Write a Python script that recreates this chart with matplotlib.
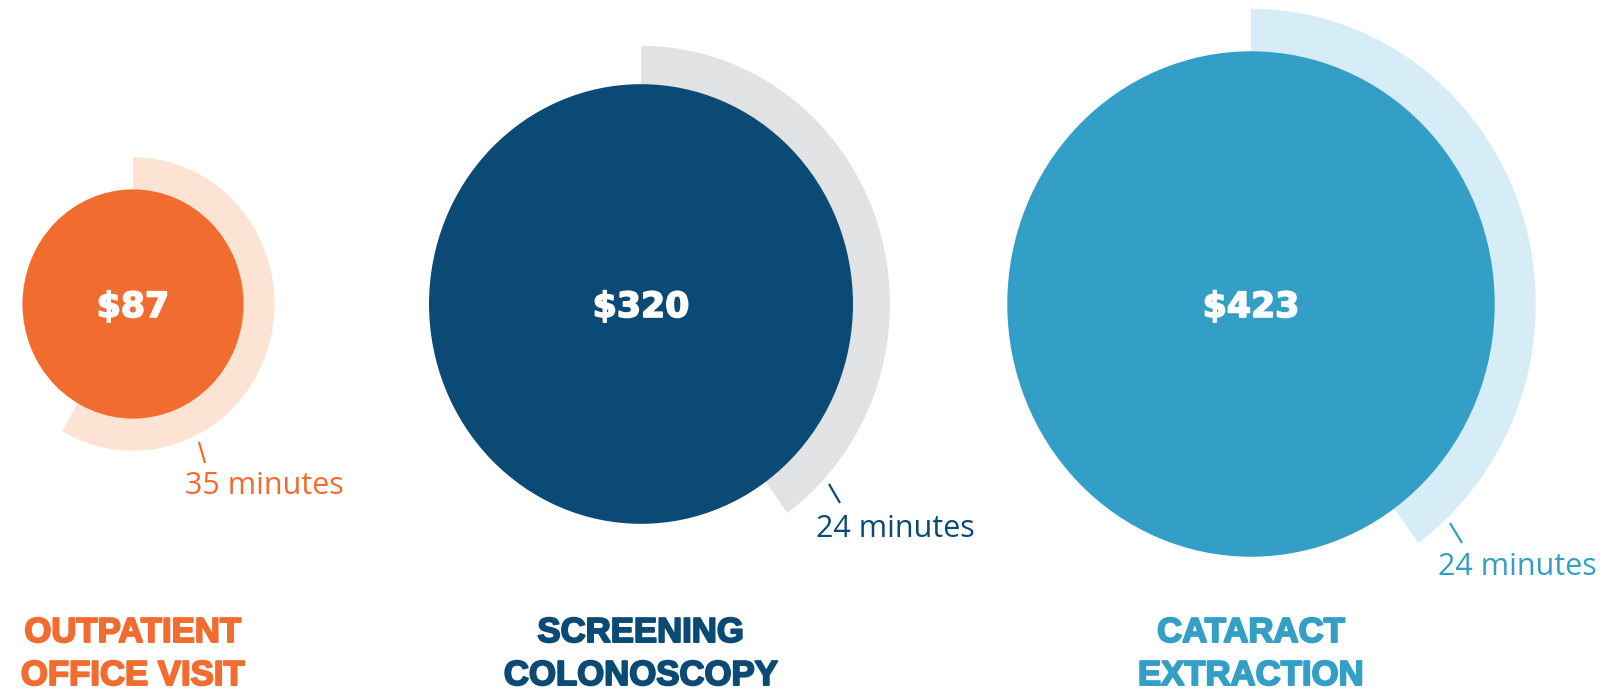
import matplotlib
matplotlib.use("Agg")
import matplotlib.pyplot as plt
from matplotlib.patches import Circle, Wedge
from matplotlib import patheffects as pe
import numpy as np

# Data
categories = ["OUTPATIENT\nOFFICE VISIT", "SCREENING\nCOLONOSCOPY", "CATARACT\nEXTRACTION"]
costs = [87, 320, 423]          # dollars
minutes = [35, 24, 24]          # procedure time, minutes out of an hour

# Styling
main_colors = ["#F36C2F", "#0A4A75", "#339FC7"]
ring_colors = ["#FDE3D3", "#E1E2E4", "#D6EDF7"]
centers_x = [133, 641, 1251]
center_y = 304
ring_width = [31, 37, 41]
radius_scale = 11.85            # px per sqrt(dollar): circle area ~ cost
S = 1.037                       # vertical stretch of the layout

W, H = 1606, 692
fig = plt.figure(figsize=(W / 100, H / 100), dpi=100)
ax = fig.add_axes([0, 0, 1, 1])
ax.set_xlim(0, W)
ax.set_ylim(H / S, 0)
ax.axis("off")


def py(p):
    """Convert a pixel row to data y."""
    return p / S


label_font = "Liberation Sans"
num_font = "DejaVu Sans"
min_font = "Open Sans"

minute_text_pos = [(185, 494), (816, 537), (1438, 575)]
tick_pos = [((199, 442), (205, 463)),
            ((829, 484), (840, 503)),
            ((1450, 523), (1462, 543))]

for i, (cat, cost, mins) in enumerate(zip(categories, costs, minutes)):
    cx = centers_x[i]
    cy = py(center_y)
    r = radius_scale * np.sqrt(cost)
    sweep = mins / 60 * 360
    # time ring: clockwise from 12 o'clock (y axis is inverted)
    ax.add_patch(Wedge((cx, cy), r + ring_width[i], -90, -90 + sweep,
                       facecolor=ring_colors[i], edgecolor="none", zorder=1))
    ax.add_patch(Circle((cx, cy), r, facecolor=main_colors[i],
                        edgecolor="none", zorder=2))
    # cost label
    ax.text(cx, py(317), f"${cost}", ha="center", va="baseline",
            fontsize=25, fontfamily=num_font, fontweight="bold",
            color="white", zorder=3,
            path_effects=[pe.withStroke(linewidth=1.2, foreground="white")])
    # minutes label with tick
    (x0, y0), (x1, y1) = tick_pos[i]
    ax.plot([x0, x1], [py(y0), py(y1)], color=main_colors[i], lw=1.6,
            solid_capstyle="butt", zorder=3)
    tx, ty = minute_text_pos[i]
    ax.text(tx, py(ty), f"{mins} minutes", ha="left", va="baseline",
            fontsize=22, fontfamily=min_font, color=main_colors[i], zorder=3)
    # category label
    for j, line in enumerate(cat.split("\n")):
        ax.text(cx, py(642 + 43 * j), line, ha="center", va="baseline",
                fontsize=25, fontfamily=label_font, fontweight="bold",
                color=main_colors[i], zorder=3,
                path_effects=[pe.withStroke(linewidth=1.4,
                                            foreground=main_colors[i])])

fig.savefig("out.png", dpi=100, facecolor="white")
